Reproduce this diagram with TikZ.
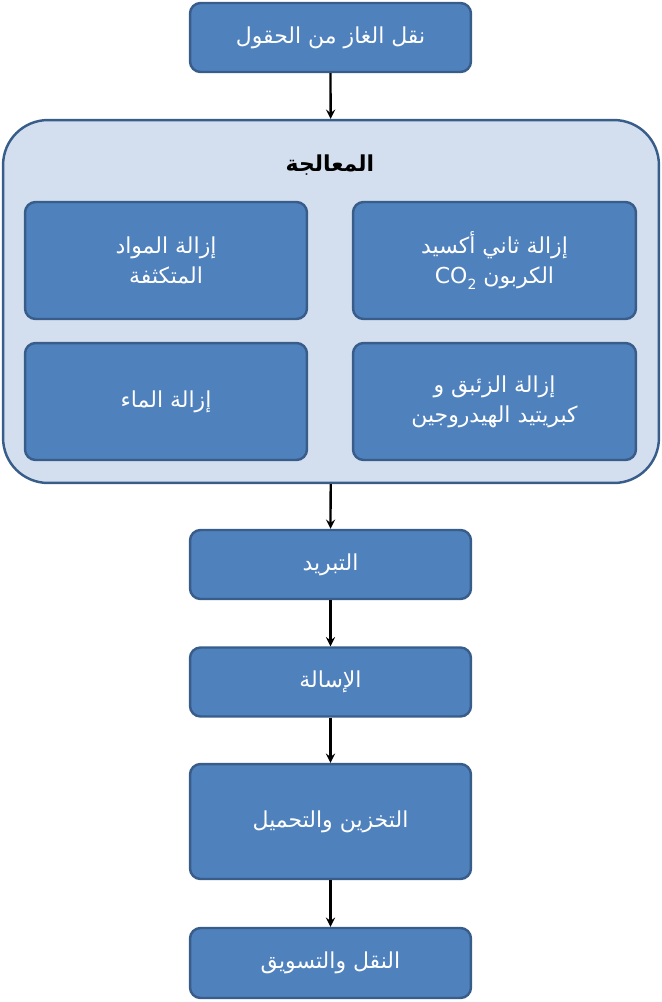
\documentclass[tikz,border=0pt]{standalone}
\usepackage{fontspec}
\setmainfont{DejaVu Sans}
\newfontfamily\arabicfont[Script=Arabic]{DejaVu Sans}
\TeXXeTstate=1
\usetikzlibrary{positioning}
\definecolor{boxfill}{HTML}{4F81BD}
\definecolor{boxline}{HTML}{385D8A}
\definecolor{panelfill}{HTML}{D3DFEE}
\tikzset{
	stage/.style={draw=boxline, line width=1.4pt, fill=boxfill, rounded corners=6pt,
		text=white, align=center, font=\arabicfont\fontsize{12.5}{17}\selectfont},
	flow/.style={->, >=stealth, line width=1.3pt},
}
\begin{document}
\begin{tikzpicture}[x=0.02cm, y=-0.02cm]
	\useasboundingbox (0,0) rectangle (662,1002);

	% outer panel
	\node[draw=boxline, line width=1.4pt, fill=panelfill, rounded corners=0.9cm,
		minimum width=13.12cm, minimum height=7.26cm, inner sep=0pt] (panel) at (331,301.5) {};
	\node[font=\arabicfont\bfseries\fontsize{12.5}{15}\selectfont] (title) at (330,165) {\beginR المعالجة\endR};

	% main stages
	\node[stage, minimum width=5.62cm, minimum height=1.38cm] (fields) at (330.5,37.5) {\beginR نقل الغاز من الحقول\endR};
	\node[stage, minimum width=5.62cm, minimum height=1.38cm] (cool) at (330.5,564.5) {\beginR التبريد\endR};
	\node[stage, minimum width=5.62cm, minimum height=1.38cm] (liquefy) at (330.5,682) {\beginR الإسالة\endR};
	\node[stage, minimum width=5.62cm, minimum height=2.3cm] (store) at (330.5,821.5) {\beginR التخزين والتحميل\endR};
	\node[stage, minimum width=5.62cm, minimum height=1.4cm] (market) at (330.5,963) {\beginR النقل والتسويق\endR};

	% treatment steps
	\node[stage, minimum width=5.64cm, minimum height=2.34cm] (cond) at (166,260.5) {\beginR إزالة  المواد\endR\\\beginR المتكثفة\endR};
	\node[stage, minimum width=5.66cm, minimum height=2.34cm] (co2) at (494.5,260.5) {\beginR إزالة ثاني أكسيد\endR\\\beginR الكربون \beginL CO\raisebox{-0.45ex}{\footnotesize 2}\endL\endR};
	\node[stage, minimum width=5.64cm, minimum height=2.34cm] (water) at (166,401.5) {\beginR إزالة الماء\endR};
	\node[stage, minimum width=5.66cm, minimum height=2.34cm] (mercury) at (494.5,401.5) {\beginR إزالة  الزئبق و\endR\\\beginR كبريتيد الهيدروجين\endR};

	% arrows
	\draw[flow] (fields) -- (panel);
	\draw[flow] (panel) -- (cool);
	\draw[flow] (cool) -- (liquefy);
	\draw[flow] (liquefy) -- (store);
	\draw[flow] (store) -- (market);
\end{tikzpicture}
\end{document}
